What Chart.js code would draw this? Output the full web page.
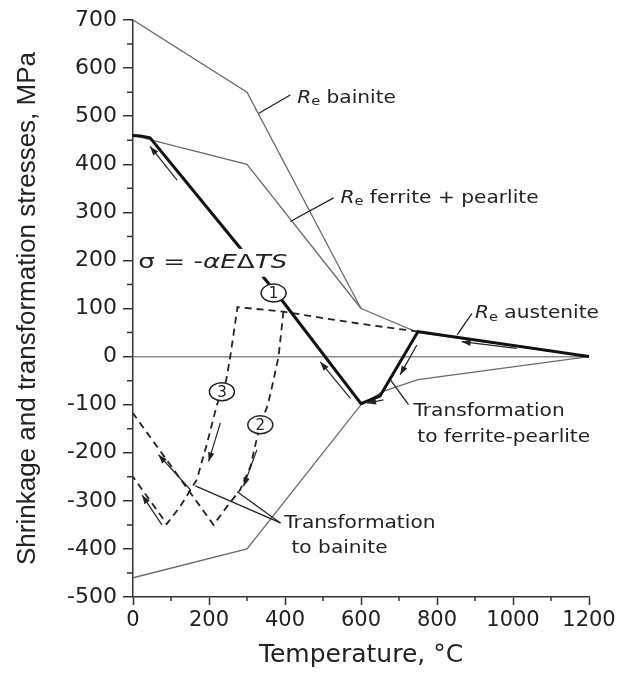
<!DOCTYPE html>
<html>

<head>
  <title>Shrinkage and transformation stresses</title>
  <script src="https://cdn.jsdelivr.net/npm/chart.js@4.4.1/dist/chart.umd.min.js"></script>
  <style>
    body { margin: 0; background: #fff; }
  </style>
</head>

<body>
  <canvas id="stressChart" width="622" height="675"></canvas>

  <script>
    // Yield strength limits, temperature in °C / stress in MPa
    const bainiteT = [0, 300, 600];
    const bainiteS = [700, 550, 100];
    const ferriteT = [0, 300, 600];
    const ferriteS = [460, 400, 100];
    const austeniteT = [600, 750, 1200];
    const austeniteS = [100, 50, 0];
    const compressionT = [0, 300, 600, 660, 750, 1200];
    const compressionS = [-460, -400, -100, -72, -48, 0];

    // Path 1: cooling with transformation to ferrite-pearlite
    const path1T = [1200, 750, 650, 600, 396, 280, 45, 20, 0];
    const path1S = [0, 52, -82, -98, 113, 228, 455, 459, 460];

    // Paths 2 and 3: transformation to bainite
    const path3T = [750, 600, 500, 400, 275, 256, 245, 234, 221, 195, 168, 124, 89, 0];
    const path3S = [52, 68, 80, 93, 103, 0, -50, -73, -100, -180, -256, -312, -348, -250];
    const path2T = [396, 383, 370, 355, 335, 326, 309, 282, 247, 212, 0];
    const path2S = [94, 0, -48, -100, -142, -170, -229, -277, -312, -350, -118];

    const tempTicks = [0, 200, 400, 600, 800, 1000, 1200];
    const stressTicks = [-500, -400, -300, -200, -100, 0, 100, 200, 300, 400, 500, 600, 700];

    // direction arrows: [tailT, tailS, headT, headS]
    const arrows = [
      [116, 367, 45, 437],
      [572, -87, 493, -11],
      [659, -90, 616, -97],
      [747, 24, 703, -38],
      [1010, 17, 865, 31],
      [76, -350, 24, -288],
      [151, -277, 67, -204],
      [230, -138, 199, -218],
      [326, -194, 291, -270]
    ];

    // label leader lines: [t1, s1, t2, s2]
    const leaders = [
      [331, 506, 414, 544],
      [414, 281, 528, 330],
      [853, 45, 892, 90],
      [677, -48, 725, -100],
      [388, -346, 164, -269],
      [388, -346, 274, -281]
    ];

    // path markers: [t, s, number]
    const markers = [[370, 132, '1'], [335, -142, '2'], [234, -73, '3']];

    const points = (t, s) => t.map((x, i) => ({ x, y: s[i] }));
    const line = (t, s, style) => ({
      data: points(t, s), showLine: true, pointRadius: 0, fill: false, tension: 0, ...style
    });
    const thin = { borderColor: '#6a6a6a', borderWidth: 1.3 };
    const thick = { borderColor: '#111', borderWidth: 3 };
    const dashed = { borderColor: '#222', borderWidth: 1.8, borderDash: [7, 5] };

    const FONT = 'DejaVu Sans';
    const SX = 1.12; // labels are set a little wide

    function drawText(ctx, parts, x, y, sx) {
      ctx.save();
      ctx.translate(x, y);
      ctx.scale(sx, 1);
      let cx = 0;
      for (const p of parts) {
        ctx.font = p.font;
        ctx.fillText(p.text, cx, p.dy || 0);
        cx += ctx.measureText(p.text).width;
      }
      ctx.restore();
      return cx * sx;
    }

    function textWidth(ctx, parts) {
      let w = 0;
      for (const p of parts) { ctx.font = p.font; w += ctx.measureText(p.text).width; }
      return w;
    }

    function arrow(ctx, x1, y1, x2, y2) {
      const a = Math.atan2(y2 - y1, x2 - x1);
      ctx.beginPath();
      ctx.moveTo(x1, y1);
      ctx.lineTo(x2, y2);
      ctx.stroke();
      ctx.beginPath();
      ctx.moveTo(x2, y2);
      ctx.lineTo(x2 - 9 * Math.cos(a) + 3.2 * Math.sin(a), y2 - 9 * Math.sin(a) - 3.2 * Math.cos(a));
      ctx.lineTo(x2 - 9 * Math.cos(a) - 3.2 * Math.sin(a), y2 - 9 * Math.sin(a) + 3.2 * Math.cos(a));
      ctx.closePath();
      ctx.fill();
    }

    const minorTicks = {
      id: 'minorTicks',
      afterDraw(chart) {
        const { ctx, scales: { x, y } } = chart;
        ctx.save();
        ctx.strokeStyle = '#333';
        ctx.lineWidth = 1.5;
        ctx.beginPath();
        for (let i = 0; i < tempTicks.length - 1; i++) {
          const px = x.getPixelForValue((tempTicks[i] + tempTicks[i + 1]) / 2);
          ctx.moveTo(px, x.top);
          ctx.lineTo(px, x.top + 4);
        }
        for (let i = 0; i < stressTicks.length - 1; i++) {
          const py = y.getPixelForValue((stressTicks[i] + stressTicks[i + 1]) / 2);
          ctx.moveTo(y.right, py);
          ctx.lineTo(y.right - 6, py);
        }
        ctx.stroke();
        ctx.restore();
      }
    };

    const annotations = {
      id: 'annotations',
      afterDatasetsDraw(chart) {
        const { ctx, scales: { x, y } } = chart;
        const px = v => x.getPixelForValue(v);
        const py = v => y.getPixelForValue(v);
        ctx.save();
        ctx.strokeStyle = '#222';
        ctx.fillStyle = '#222';
        ctx.lineWidth = 1.3;

        leaders.forEach(([t1, s1, t2, s2]) => {
          ctx.beginPath();
          ctx.moveTo(px(t1), py(s1));
          ctx.lineTo(px(t2), py(s2));
          ctx.stroke();
        });

        ctx.lineWidth = 1.2;
        arrows.forEach(([t1, s1, t2, s2]) => arrow(ctx, px(t1), py(s1), px(t2), py(s2)));

        // equation label sits on a white patch over path 1
        const up = `19px "${FONT}"`;
        const it = `italic 19px "${FONT}"`;
        const eq = [
          { text: 'σ = -', font: up }, { text: 'α', font: it }, { text: 'E', font: it },
          { text: 'Δ', font: up }, { text: 'TS', font: it }
        ];
        ctx.textBaseline = 'middle';
        const ex = px(14), ey = py(195);
        const ew = 149;
        ctx.fillStyle = '#fff';
        ctx.fillRect(ex - 3, ey - 14, ew + 6, 28);
        ctx.fillStyle = '#222';
        drawText(ctx, eq, ex, ey, ew / textWidth(ctx, eq));

        // yield strength labels
        const re = rest => [
          { text: 'R', font: `italic 18px "${FONT}"` },
          { text: 'e', font: `13px "${FONT}"`, dy: 4 },
          { text: rest, font: `18px "${FONT}"` }
        ];
        drawText(ctx, re(' bainite'), px(432), py(538), SX);
        drawText(ctx, re(' ferrite + pearlite'), px(546), py(330), SX);
        drawText(ctx, re(' austenite'), px(900), py(90), SX);

        const plain = s => [{ text: s, font: `18px "${FONT}"` }];
        drawText(ctx, plain('Transformation'), px(738), py(-113), SX);
        drawText(ctx, plain('to ferrite-pearlite'), px(748), py(-167), SX);
        drawText(ctx, plain('Transformation'), px(398), py(-346), SX);
        drawText(ctx, plain('to bainite'), px(417), py(-398), SX);

        // numbered path markers
        ctx.textAlign = 'center';
        ctx.font = `15px "${FONT}"`;
        markers.forEach(([t, s, n]) => {
          const cx = px(t), cy = py(s);
          ctx.beginPath();
          ctx.ellipse(cx, cy, 12.5, 9, 0, 0, Math.PI * 2);
          ctx.fillStyle = '#fff';
          ctx.fill();
          ctx.lineWidth = 1.5;
          ctx.stroke();
          ctx.fillStyle = '#222';
          ctx.fillText(n, cx, cy + 1);
        });
        ctx.restore();
      }
    };

    const ctx = document.getElementById('stressChart').getContext('2d');
    const stressChart = new Chart(ctx, {
      type: 'scatter',
      data: {
        datasets: [
          line(path1T, path1S, thick),
          line(path3T, path3S, dashed),
          line(path2T, path2S, dashed),
          line(bainiteT, bainiteS, thin),
          line(ferriteT, ferriteS, thin),
          line(austeniteT, austeniteS, thin),
          line(compressionT, compressionS, thin)
        ]
      },
      options: {
        responsive: false,
        animation: false,
        layout: { padding: { top: 20, right: 33, left: 0, bottom: 0 } },
        plugins: { legend: { display: false }, tooltip: { enabled: false } },
        scales: {
          x: {
            type: 'linear',
            min: 0,
            max: 1200,
            afterBuildTicks: s => { s.ticks = tempTicks.map(value => ({ value })); },
            afterFit: s => { s.height = 78; },
            ticks: {
              font: { family: FONT, size: 21 },
              color: '#222',
              padding: 3,
              maxRotation: 0,
              autoSkip: false,
              callback: v => String(v)
            },
            grid: { drawOnChartArea: false, tickLength: 8, tickColor: '#333', tickWidth: 1.5 },
            border: { color: '#333', width: 1.5 },
            title: {
              display: true,
              text: 'Temperature, °C',
              font: { family: FONT, size: 25 },
              color: '#222',
              padding: { top: 0, bottom: 5 }
            }
          },
          y: {
            min: -500,
            max: 700,
            afterBuildTicks: s => { s.ticks = stressTicks.map(value => ({ value })); },
            afterFit: s => { s.width = 133; },
            ticks: {
              font: { family: FONT, size: 22 },
              color: '#222',
              padding: 6,
              autoSkip: false,
              callback: v => String(v)
            },
            grid: {
              drawOnChartArea: true,
              color: c => (c.tick && c.tick.value === 0 ? '#8a8a8a' : 'rgba(0,0,0,0)'),
              lineWidth: 1.5,
              tickLength: 10,
              tickColor: '#333',
              tickWidth: 1.5
            },
            border: { color: '#333', width: 1.5 },
            title: {
              display: true,
              text: 'Shrinkage and transformation stresses, MPa',
              font: { family: 'Liberation Sans', size: 26 },
              color: '#222',
              padding: { top: 12, bottom: 0 }
            }
          }
        }
      },
      plugins: [minorTicks, annotations]
    });
  </script>
</body>

</html>
